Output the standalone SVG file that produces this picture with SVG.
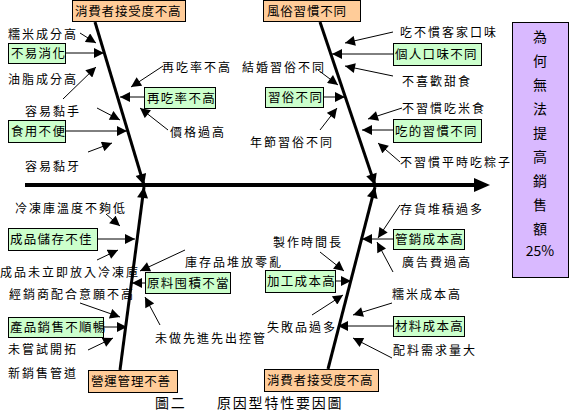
<svg xmlns="http://www.w3.org/2000/svg" width="571" height="415" viewBox="0 0 571 415">
<defs>
<style>
.bone{stroke:#000;stroke-width:3;fill:none}
.spine{stroke:#000;stroke-width:4;fill:none}
.arr{stroke:#000;stroke-width:1;fill:none;marker-end:url(#ah)}
.bonea{marker-end:url(#bh)}
.g{fill:#CCFFCC;stroke:#000;stroke-width:1}
.o{fill:#FFCC99;stroke:#000;stroke-width:1}
.p{fill:#D9B9FF;stroke:#000;stroke-width:1}
text{font-family:"Noto Sans CJK TC","Noto Sans CJK SC",sans-serif;fill:#000}
.l{font-size:12px;letter-spacing:2px}
.b{font-size:12.5px;letter-spacing:1.3px}
.c{font-size:12.5px;letter-spacing:0.8px}
.v{font-size:14px;text-anchor:middle}
.cap{font-size:14px;letter-spacing:1.8px}
</style>
<marker id="ah" viewBox="0 0 10 10" refX="10" refY="5" markerWidth="11" markerHeight="10" markerUnits="userSpaceOnUse" orient="auto"><path d="M0,0L10,5L0,10z" fill="#000"/></marker>
<marker id="bh" viewBox="0 0 10 10" refX="10" refY="5" markerWidth="14" markerHeight="11" markerUnits="userSpaceOnUse" orient="auto"><path d="M0,0L10,5L0,10z" fill="#000"/></marker>
</defs>

<g id="connectors">
<line class="spine" x1="25" y1="185" x2="476" y2="185"/>
<path d="M474,178L490,185L474,192z" fill="#000"/>
<line class="bone bonea" x1="95" y1="22" x2="144" y2="185"/>
<line class="bone bonea" x1="320" y1="22" x2="375" y2="185"/>
<line class="bone bonea" x1="120" y1="370" x2="144" y2="187"/>
<line class="bone bonea" x1="328" y1="369" x2="375" y2="187"/>
<line class="arr" x1="65" y1="53" x2="104" y2="53"/>
<line class="arr" x1="144" y1="97" x2="120" y2="97"/>
<line class="arr" x1="65" y1="131" x2="127" y2="131"/>
<line class="arr" x1="323" y1="97" x2="345" y2="97"/>
<line class="arr" x1="393" y1="54" x2="332" y2="54"/>
<line class="arr" x1="393" y1="130" x2="362" y2="130"/>
<line class="arr" x1="97" y1="239" x2="135" y2="239"/>
<line class="arr" x1="145" y1="283" x2="132" y2="283"/>
<line class="arr" x1="103" y1="327" x2="127" y2="327"/>
<line class="arr" x1="335" y1="281" x2="351" y2="281"/>
<line class="arr" x1="393" y1="239" x2="362" y2="239"/>
<line class="arr" x1="393" y1="326" x2="338" y2="326"/>
<line class="arr" x1="80" y1="33" x2="96" y2="43"/>
<line class="arr" x1="63" y1="99" x2="96" y2="67"/>
<line class="arr" x1="97" y1="108" x2="120" y2="120"/>
<line class="arr" x1="88" y1="152" x2="112" y2="143"/>
<line class="arr" x1="163" y1="66" x2="131" y2="87"/>
<line class="arr" x1="168" y1="130" x2="140" y2="108"/>
<line class="arr" x1="318" y1="70" x2="338" y2="85"/>
<line class="arr" x1="320" y1="130" x2="337" y2="108"/>
<line class="arr" x1="393" y1="32" x2="345" y2="43"/>
<line class="arr" x1="393" y1="76" x2="345" y2="66"/>
<line class="arr" x1="402" y1="108" x2="368" y2="119"/>
<line class="arr" x1="400" y1="162" x2="378" y2="143"/>
<line class="arr" x1="106" y1="214" x2="120" y2="226"/>
<line class="arr" x1="97" y1="260" x2="118" y2="250"/>
<line class="arr" x1="80" y1="303" x2="120" y2="317"/>
<line class="arr" x1="88" y1="350" x2="113" y2="338"/>
<line class="arr" x1="185" y1="250" x2="140" y2="271"/>
<line class="arr" x1="160" y1="325" x2="145" y2="297"/>
<line class="arr" x1="320" y1="252" x2="344" y2="271"/>
<line class="arr" x1="312" y1="315" x2="343" y2="295"/>
<line class="arr" x1="400" y1="205" x2="378" y2="238"/>
<line class="arr" x1="393" y1="272" x2="377" y2="242"/>
<line class="arr" x1="392" y1="303" x2="353" y2="315"/>
<line class="arr" x1="392" y1="358" x2="353" y2="338"/>
</g>

<g id="effect">
<rect class="p" x="512.5" y="22.5" width="56" height="255"/>
<text class="v" x="540" y="42">為</text>
<text class="v" x="540" y="66">何</text>
<text class="v" x="540" y="90">無</text>
<text class="v" x="540" y="114">法</text>
<text class="v" x="540" y="138">提</text>
<text class="v" x="540" y="162">高</text>
<text class="v" x="540" y="186">銷</text>
<text class="v" x="540" y="210">售</text>
<text class="v" x="540" y="234">額</text>
<text class="v" x="540" y="256">25%</text>
</g>

<g id="cat-consumer-top"><rect class="o" x="72.5" y="0.5" width="113" height="21"/><text class="c" x="75" y="15.5">消費者接受度不高</text></g>
<g id="cat-custom"><rect class="o" x="263.5" y="0.5" width="97" height="21"/><text class="c" x="267" y="15.5">風俗習慣不同</text></g>
<g id="cat-management"><rect class="o" x="88.5" y="370.5" width="89" height="22"/><text class="c" x="91" y="386">營運管理不善</text></g>
<g id="cat-consumer-bottom"><rect class="o" x="264.5" y="369.5" width="114" height="22"/><text class="c" x="267" y="385">消費者接受度不高</text></g>

<g id="n-digest"><rect class="g" x="8.5" y="43.5" width="57" height="20"/><text class="b" x="11" y="58">不易消化</text></g>
<g id="n-repeat"><rect class="g" x="144.5" y="87.5" width="71" height="21"/><text class="b" x="147" y="102.5">再吃率不高</text></g>
<g id="n-eat"><rect class="g" x="8.5" y="120.5" width="57" height="22"/><text class="b" x="11" y="136">食用不便</text></g>
<g id="n-custom"><rect class="g" x="265.5" y="87.5" width="58" height="20"/><text class="b" x="268" y="102">習俗不同</text></g>
<g id="n-taste"><rect class="g" x="393.5" y="43.5" width="88" height="22"/><text class="b" x="395" y="59">個人口味不同</text></g>
<g id="n-habit"><rect class="g" x="393.5" y="119.5" width="88" height="23"/><text class="b" x="395" y="135.5">吃的習慣不同</text></g>
<g id="n-storage"><rect class="g" x="8.5" y="228.5" width="89" height="22"/><text class="b" x="10" y="244">成品儲存不佳</text></g>
<g id="n-stock"><rect class="g" x="145.5" y="272.5" width="85" height="21"/><text class="b" x="147" y="288">原料囤積不當</text></g>
<g id="n-sales"><rect class="g" x="8.5" y="317.5" width="95" height="20"/><text class="b" x="10" y="332">產品銷售不順暢</text></g>
<g id="n-process"><rect class="g" x="265.5" y="270.5" width="70" height="22"/><text class="b" x="267" y="286">加工成本高</text></g>
<g id="n-market"><rect class="g" x="393.5" y="229.5" width="71" height="20"/><text class="b" x="395" y="244">管銷成本高</text></g>
<g id="n-material"><rect class="g" x="393.5" y="316.5" width="71" height="20"/><text class="b" x="395" y="331">材料成本高</text></g>

<g id="labels">
<text class="l" x="8" y="39">糯米成分高</text>
<text class="l" x="8" y="84">油脂成分高</text>
<text class="l" x="25" y="115.5">容易黏手</text>
<text class="l" x="25" y="170.5">容易黏牙</text>
<text class="l" x="162" y="71.5">再吃率不高</text>
<text class="l" x="170" y="136.5">價格過高</text>
<text class="l" x="242" y="71.5">結婚習俗不同</text>
<text class="l" x="250" y="146.5">年節習俗不同</text>
<text class="l" x="400" y="36.5">吃不慣客家口味</text>
<text class="l" x="402" y="86">不喜歡甜食</text>
<text class="l" x="402" y="112.5">不習慣吃米食</text>
<text class="l" x="400" y="166.5">不習慣平時吃粽子</text>
<text class="l" x="15" y="212.5">冷凍庫溫度不夠低</text>
<text class="l" x="0" y="276.5">成品未立即放入冷凍庫</text>
<text class="l" x="9" y="298.5">經銷商配合意願不高</text>
<text class="l" x="8" y="353.5">未嘗試開拓</text>
<text class="l" x="8" y="377.5">新銷售管道</text>
<text class="l" x="185" y="266.5">庫存品堆放零亂</text>
<text class="l" x="155" y="342.5">未做先進先出控管</text>
<text class="l" x="273" y="246.5">製作時間長</text>
<text class="l" x="267" y="331.5">失敗品過多</text>
<text class="l" x="400" y="213.5">存貨堆積過多</text>
<text class="l" x="402" y="266.5">廣告費過高</text>
<text class="l" x="392" y="298.5">糯米成本高</text>
<text class="l" x="393" y="354.5">配料需求量大</text>
</g>

<g id="caption">
<text class="cap" x="155" y="408">圖二</text>
<text class="cap" x="217" y="408">原因型特性要因圖</text>
</g>
</svg>
